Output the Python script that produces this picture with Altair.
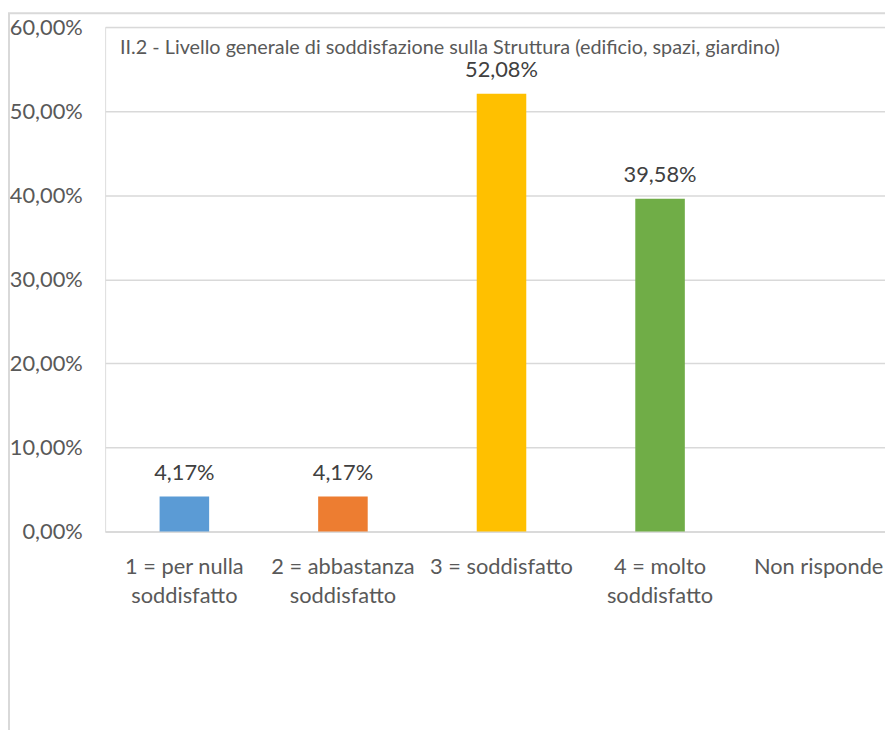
import altair as alt
import pandas as pd

categories = [
    "1 = per nulla\nsoddisfatto",
    "2 = abbastanza\nsoddisfatto",
    "3 = soddisfatto",
    "4 = molto\nsoddisfatto",
    "Non risponde",
]
values = [0.0417, 0.0417, 0.5208, 0.3958, 0.0]
colors = ["#5B9BD5", "#ED7D31", "#FFC000", "#70AD47", "#A5A5A5"]
title_text = "II.2 - Livello generale di soddisfazione sulla Struttura (edificio, spazi, giardino)"
y_ticks = [0, 0.1, 0.2, 0.3, 0.4, 0.5, 0.6]

df = pd.DataFrame({"cat": categories, "value": values})

FONT = "Lato"
GRID = "#d9d9d9"
AXIS_TXT = "#595959"

x_enc = alt.X(
    "cat:N",
    sort=categories,
    scale=alt.Scale(domain=categories, paddingInner=0.6875, paddingOuter=0.303, align=0.567),
    axis=alt.Axis(
        title=None, labelAngle=0, ticks=False, domain=True, domainColor=GRID, domainWidth=1.5,
        labelPadding=25, labelBaseline="top", labelLineHeight=30,
        labelExpr="split(datum.label, '\\n')",
        labelFont=FONT, labelFontSize=22, labelColor=AXIS_TXT, labelLimit=300,
    ),
)
y_enc = alt.Y(
    "value:Q",
    scale=alt.Scale(domain=[0, 0.6], nice=False),
    axis=alt.Axis(
        title=None, values=y_ticks, ticks=False, domain=False, grid=True,
        gridColor=GRID, gridWidth=1.5,
        labelExpr="replace(format(datum.value, '.2%'), '.', ',')",
        labelPadding=23, labelFont=FONT, labelFontSize=22, labelColor=AXIS_TXT,
    ),
)

base = alt.Chart(df)

bars = base.mark_bar().encode(
    x=x_enc,
    y=y_enc,
    color=alt.Color("cat:N", sort=categories, scale=alt.Scale(domain=categories, range=colors), legend=None),
)

labels = base.transform_filter("datum.value > 0").transform_calculate(
    lbl="replace(format(datum.value, '.2%'), '.', ',')"
).mark_text(baseline="alphabetic", dy=-17, font=FONT, fontSize=22, color="#404040").encode(
    x=alt.X("cat:N", sort=categories),
    y=alt.Y("value:Q"),
    text="lbl:N",
)

one = alt.Chart(pd.DataFrame({"a": [0]}))

title = one.mark_text(align="left", baseline="middle", font=FONT, fontSize=20, color=AXIS_TXT).encode(
    x=alt.value(15), y=alt.value(21), text=alt.value(title_text)
)

frame_left = one.mark_rule(color=GRID, strokeWidth=2).encode(
    x=alt.value(-97), y=alt.value(-14), y2=alt.value(720)
)
frame_top = one.mark_rule(color=GRID, strokeWidth=2).encode(
    x=alt.value(-98), x2=alt.value(800), y=alt.value(-14)
)

chart = alt.layer(frame_left, frame_top, bars, labels, title).properties(
    width=787,
    height=509,
    padding={"left": 98, "top": 16, "right": 0, "bottom": 197},
    autosize="none",
).configure_view(stroke=None).configure(background="white")

chart.save("out.html", embed_options={"renderer": "svg", "actions": False})
